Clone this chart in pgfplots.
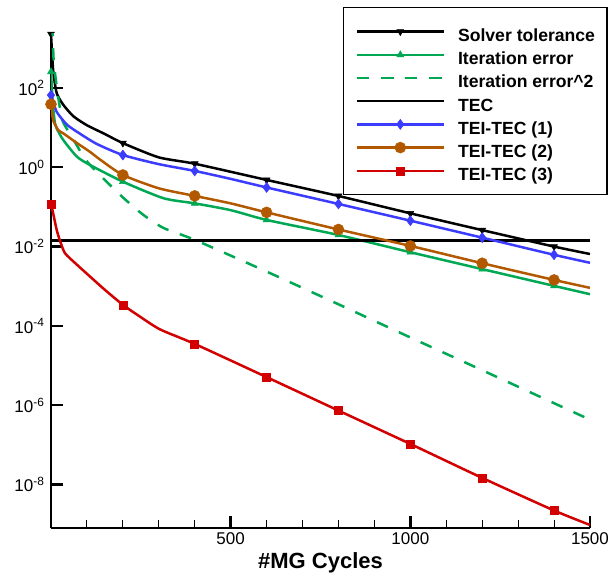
\documentclass[border=0pt]{standalone}
\usepackage{fontspec}
\setmainfont{Liberation Sans}
\usepackage{pgfplots}
\pgfplotsset{compat=1.18}
\definecolor{cgreen}{RGB}{0,168,84}
\definecolor{cblue}{RGB}{60,60,255}
\definecolor{cbrown}{RGB}{178,89,0}
\definecolor{cred}{RGB}{210,0,0}
\begin{document}
\begin{tikzpicture}
\begin{axis}[
  scale only axis, width=539pt, height=494.4pt,
  at={(0pt,0pt)}, anchor=south west,
  xmin=0, xmax=1500, ymode=log, ymin=8.1e-10, ymax=2400,
  axis x line=bottom, axis y line=left,
  axis line style={-, line width=2.4pt},
  tick align=inside,
  major tick length=12pt, minor tick length=7.5pt,
  major tick style={line width=2.4pt, black},
  minor tick style={line width=1pt, black},
  xtick={500,1000,1500}, xticklabels={500,1000,1500},
  minor xtick={100,200,300,400,600,700,800,900,1100,1200,1300,1400},
  ytick={1e-8,1e-6,1e-4,1e-2,1,1e2},
  yticklabels={10\textsuperscript{-8},10\textsuperscript{-6},10\textsuperscript{-4},10\textsuperscript{-2},10\textsuperscript{0},10\textsuperscript{2}},
  yminorticks=false,
  ticklabel style={font=\fontsize{17}{20}\selectfont},
  xticklabel style={yshift=-1.5pt},
  yticklabel style={xshift=-3pt},
  xlabel={\#MG Cycles},
  xlabel style={font=\fontsize{22}{24}\selectfont\bfseries, at={(axis description cs:0.5,0)}, anchor=base, yshift=-40.6pt},
  clip mode=individual,
  legend style={at={(axis description cs:0.5417,1.0532)}, anchor=north west,
    draw=black, line width=1.2pt, fill=white,
    font=\fontsize{17.6}{20}\selectfont\bfseries,
    inner xsep=12pt, inner ysep=14pt, row sep=3.2pt, column sep=13pt,
    nodes={inner sep=0pt, text height=20pt, text depth=0pt}},
  legend cell align=left,
  legend image code/.code={\draw[mark indices={2}, line width=2.5pt] plot coordinates {(0pt,0pt)(43.5pt,0pt)(87pt,0pt)};},
]
\addplot[black, line width=2.5pt, smooth, tension=0.4, mark=triangle*, mark size=4pt, mark options={solid, rotate=180, line width=0.5pt},
  mark indices={1,8,10,11,12,13,14,15}] coordinates {
(0,2300)(6,280)(16,74)(34,38)(62,19.5)(100,11.5)(150,6.9)(200,4.07)(300,1.78)(400,1.23)
(600,0.48)(800,0.189)(1000,0.069)(1200,0.026)(1400,0.010)(1500,0.0065)};
\addlegendentry{Solver tolerance}
\addplot[cgreen, line width=2.5pt, smooth, tension=0.4, mark=triangle*, mark size=4pt, mark options={solid, line width=0.5pt},
  mark indices={1,8,10,12,13,14,15,16}] coordinates {
(0,257)(5,41)(11,12.9)(16,9.5)(34,4.9)(72,1.86)(108,1.15)(200,0.434)(313,0.166)(400,0.123)
(500,0.083)(600,0.047)(800,0.0196)(1000,0.0072)(1200,0.0027)(1400,0.00102)(1500,0.00063)};
\addlegendentry{Iteration error}
\addplot[cgreen, line width=2.5pt, smooth, tension=0.4, dash pattern=on 12pt off 12pt] coordinates {
(0,66000)(5,2000)(8,417)(20,60)(32,15)(58,5.9)(98,1.48)(148,0.50)(200,0.174)(257,0.063)
(313,0.0295)(400,0.0148)(600,0.00234)(800,3.5e-4)(1000,5.1e-5)(1200,7.6e-6)(1400,1.12e-6)(1500,4.3e-7)};
\addlegendentry{Iteration error\textasciicircum 2}
\addplot[black, line width=2.5pt] coordinates {(0,0.0141)(1500,0.0141)};
\addlegendentry{TEC}
\addplot[cblue, line width=2.5pt, smooth, tension=0.4, mark=diamond*, mark size=5pt, mark options={solid, line width=0.5pt},
  mark indices={1,6,8,10,11,12,13,14}] coordinates {
(0,66)(16,25)(44,12)(75,7.6)(127,3.9)(200,2.04)(300,1.2)(400,0.81)(500,0.51)(600,0.31)
(800,0.119)(1000,0.045)(1200,0.0168)(1400,0.0062)(1500,0.0039)};
\addlegendentry{TEI-TEC (1)}
\addplot[cbrown, line width=2.5pt, smooth, tension=0.4, mark=*, mark size=5.5pt, mark options={solid, line width=0.5pt},
  mark indices={1,8,10,12,13,14,15,16}] coordinates {
(0,39)(6,15.5)(20,8.7)(34,7.2)(72,4.1)(110,2.4)(136,1.58)(200,0.64)(300,0.295)(400,0.19)
(500,0.123)(600,0.073)(800,0.027)(1000,0.0104)(1200,0.0038)(1400,0.00144)(1500,0.00091)};
\addlegendentry{TEI-TEC (2)}
\addplot[cred, line width=2.5pt, smooth, tension=0.4, mark=square*, mark size=4pt, mark options={solid, line width=0.5pt},
  mark indices={1,9,12,13,14,15,16,17}] coordinates {
(0,0.12)(6,0.069)(16,0.026)(25,0.0141)(39,0.0068)(72,0.0035)(109,0.00174)(150,8.1e-4)
(200,3.4e-4)(248,1.7e-4)(304,8.1e-5)(400,3.5e-5)(600,5.1e-6)(800,7.3e-7)(1000,1.05e-7)
(1200,1.46e-8)(1400,2.2e-9)(1500,9.5e-10)};
\addlegendentry{TEI-TEC (3)}
\end{axis}
\pgfresetboundingbox
\path[use as bounding box] (-51pt,-50.3pt) rectangle (563pt,527.7pt);
\end{tikzpicture}
\end{document}
